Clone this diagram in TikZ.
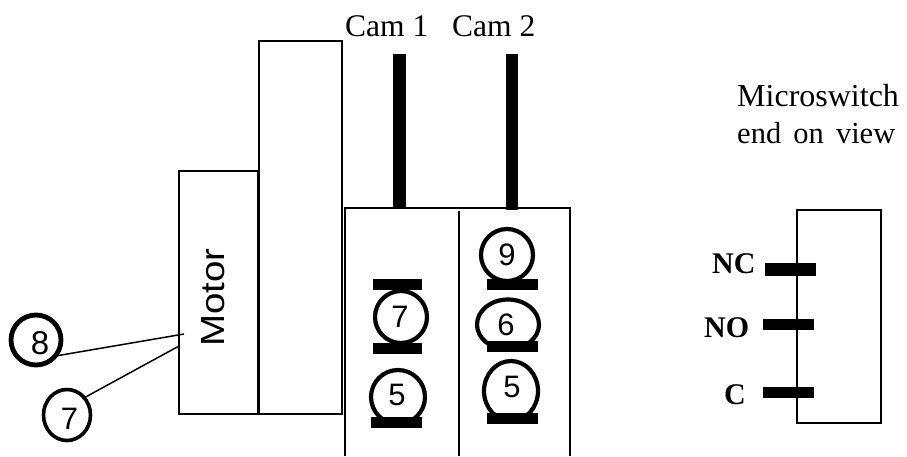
\documentclass[tikz,border=0pt]{standalone}
\usepackage{fontspec}
\setmainfont{Liberation Serif}
\newfontfamily\numfont{Liberation Sans}
\usetikzlibrary{shapes.geometric}
\tikzset{
 outline/.style={draw=black,line width=1.6pt,fill=none,inner sep=0pt,outer sep=0pt},
 pin/.style={fill=black,inner sep=0pt,outer sep=0pt,draw=none},
 num/.style={draw=black,fill=white,ellipse,line width=#1,inner sep=0pt,outer sep=0pt},
 dig/.style={font=\numfont\fontsize{31}{31}\selectfont,inner sep=0pt},
 bigdig/.style={font=\numfont\fontsize{33}{33}\selectfont,inner sep=0pt},
 camlbl/.style={font=\fontsize{31.5}{32}\selectfont,inner sep=0pt,anchor=base west},
 term/.style={font=\bfseries\fontsize{30}{30}\selectfont,inner sep=0pt,anchor=base west},
 lead/.style={draw=black,line width=1.5pt},
}
\begin{document}
\begin{tikzpicture}[x=1pt,y=-1pt]
\useasboundingbox (0,0) rectangle (907,456);
% motor and gearbox
\node[outline,minimum width=79pt,minimum height=243pt] (motor) at (218.5,292.5) {};
\node[outline,minimum width=83pt,minimum height=373pt] (gear) at (300.5,227.5) {};
\node[font=\numfont\fontsize{33.5}{33.5}\selectfont,rotate=90,inner sep=0pt,xscale=1.15,anchor=base] (mlabel) at (224,297.5) {Motor};
% cam housing (runs off the bottom)
\draw[line width=1.6pt] (345,456) -- (345,208) -- (570,208) -- (570,456);
\coordinate (divtop) at (459,211);
\coordinate (divbot) at (459,456);
\draw[line width=1.6pt] (divtop) -- (divbot);
% cams
\node[pin,minimum width=13pt,minimum height=154pt] (cam1) at (399.5,131) {};
\node[pin,minimum width=12pt,minimum height=156pt] (cam2) at (512,132) {};
\node[camlbl] (cam1t) at (345,36) {Cam 1};
\node[camlbl] (cam2t) at (452,36) {Cam 2};
% numbered circles
\node[num=4.2pt,minimum width=52pt,minimum height=52pt] (a7) at (401,317) {};
\node[dig] (a7d) at (400,317) {7};
\node[num=4.2pt,minimum width=54pt,minimum height=54pt] (a5) at (398,397) {};
\node[dig] (a5d) at (397,395) {5};
\node[num=4.2pt,minimum width=52pt,minimum height=52pt] (b9) at (507,255) {};
\node[dig] (b9d) at (507,255) {9};
\node[num=4.2pt,minimum width=62pt,minimum height=50pt] (b6) at (508,324.5) {};
\node[dig] (b6d) at (506,325) {6};
\node[num=4.2pt,minimum width=54pt,minimum height=60pt] (b5) at (511,391) {};
\node[dig] (b5d) at (512,387) {5};
% switch bars
\node[pin,minimum width=49pt,minimum height=11pt] (s1) at (397.5,284.5) {};
\node[pin,minimum width=49pt,minimum height=11pt] (s2) at (397.5,348.5) {};
\node[pin,minimum width=51pt,minimum height=11pt] (s3) at (396.5,422.5) {};
\node[pin,minimum width=51pt,minimum height=11pt] (s4) at (512.5,284.5) {};
\node[pin,minimum width=51pt,minimum height=11pt] (s5) at (512.5,346.5) {};
\node[pin,minimum width=51pt,minimum height=11pt] (s6) at (512.5,418.5) {};
% leads
\node[num=4.8pt,minimum width=50pt,minimum height=50pt] (c8) at (36,340) {};
\node[bigdig] (c8d) at (40,343) {8};
\node[num=3.6pt,minimum width=47pt,minimum height=51pt] (c7) at (67,415) {};
\node[dig] (c7d) at (69.5,419) {7};
\coordinate (m8) at (184,334);
\coordinate (m7) at (179,346);
\draw[lead] (c8.-40) -- (m8);
\draw[lead,shorten <=-2pt] (c7.45) -- (m7);
% microswitch
\node[font=\fontsize{32}{32}\selectfont,inner sep=0pt,anchor=base west] (ms1) at (737,106) {Microswitch};
\node[font=\fontsize{30.5}{31}\selectfont,inner sep=0pt,anchor=base west] (ms2) at (737,143) {end\hspace{4.5pt} on\hspace{4.5pt} view};
\node[outline,minimum width=84pt,minimum height=213pt] (sw) at (839,316.5) {};
\node[pin,minimum width=51pt,minimum height=13pt] (pnc) at (790.5,269.5) {};
\node[pin,minimum width=51pt,minimum height=11pt] (pno) at (788.5,324.5) {};
\node[pin,minimum width=51pt,minimum height=11pt] (pc) at (788.5,392.5) {};
\node[term] (tnc) at (712,273) {NC};
\node[term] (tno) at (704,337) {NO};
\node[term] (tc) at (724,404) {C};
\end{tikzpicture}
\end{document}
